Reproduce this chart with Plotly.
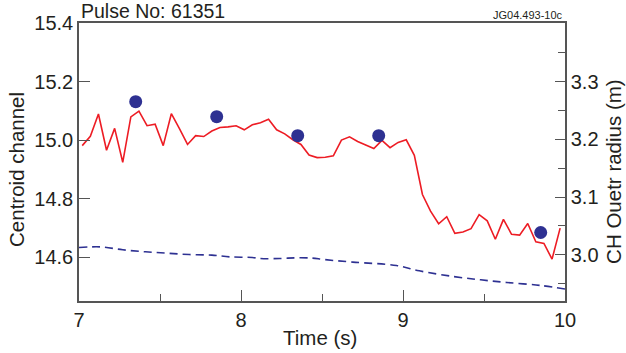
import plotly.graph_objects as go

# Red line: centroid channel vs time
t_red = [7.02, 7.07, 7.12, 7.17, 7.22, 7.27, 7.32, 7.37, 7.42, 7.47,
         7.52, 7.57, 7.62, 7.67, 7.72, 7.77, 7.82, 7.87, 7.92, 7.97,
         8.02, 8.07, 8.12, 8.17, 8.22, 8.27, 8.32, 8.37, 8.42, 8.47,
         8.52, 8.57, 8.62, 8.67, 8.72, 8.77, 8.82, 8.87, 8.92, 8.97,
         9.02, 9.07, 9.12, 9.17, 9.22, 9.27, 9.32, 9.37, 9.42, 9.47,
         9.52, 9.57, 9.62, 9.67, 9.72, 9.77, 9.82, 9.87, 9.92, 9.97]
centroid = [14.981, 15.013, 15.089, 14.965, 15.040, 14.924, 15.079, 15.099, 15.049, 15.054,
            14.981, 15.090, 15.039, 14.985, 15.015, 15.012, 15.031, 15.043, 15.045, 15.049,
            15.035, 15.052, 15.059, 15.071, 15.035, 15.021, 15.001, 14.985, 14.949, 14.940,
            14.941, 14.946, 15.000, 15.011, 14.995, 14.983, 14.971, 14.999, 14.974, 14.992,
            15.001, 14.948, 14.814, 14.757, 14.714, 14.738, 14.681, 14.686, 14.697, 14.745,
            14.724, 14.661, 14.729, 14.678, 14.675, 14.715, 14.652, 14.647, 14.593, 14.699]

# Blue dots
t_dots = [7.35, 7.85, 8.35, 8.85, 9.85]
dots = [15.131, 15.080, 15.015, 15.015, 14.684]

# Blue dashed line: CH outer radius (m), right axis
t_rad = [7.0, 7.13, 7.27, 7.41, 7.54, 7.68, 7.82, 7.93, 8.07, 8.12, 8.24,
         8.34, 8.44, 8.51, 8.69, 8.96, 9.10, 9.31, 9.48, 9.64, 9.85, 10.0]
radius = [3.0126, 3.0138, 3.0087, 3.0052, 3.0029, 3.0005, 2.9995, 2.9965, 2.9953, 2.9936, 2.9936,
          2.9948, 2.9943, 2.9919, 2.9874, 2.9815, 2.9723, 2.9625, 2.9567, 2.9521, 2.9469, 2.9407]

xticks = [7, 8, 9, 10]
yticks = [14.6, 14.8, 15.0, 15.2, 15.4]
y2ticks = [3.0, 3.1, 3.2, 3.3]

FONT = "Liberation Sans, Arial, sans-serif"
AX = "#555555"
TXT = "#231f20"
RED = "#ed1c24"
BLUE = "#2e3192"

fig = go.Figure()
fig.add_trace(go.Scatter(x=t_red, y=centroid, mode="lines",
                         line=dict(color=RED, width=1.6), yaxis="y"))
fig.add_trace(go.Scatter(x=t_rad, y=radius, mode="lines", line_shape="spline",
                         line=dict(color=BLUE, width=1.6, dash="8px,5px"), yaxis="y2"))
fig.add_trace(go.Scatter(x=t_dots, y=dots, mode="markers",
                         marker=dict(color=BLUE, size=13, line=dict(width=0)), yaxis="y"))

fig.update_layout(
    width=626, height=353,
    margin=dict(l=79, r=61, t=23, b=52),
    paper_bgcolor="white", plot_bgcolor="white",
    showlegend=False,
    font=dict(family=FONT, color=TXT, size=20),
    xaxis=dict(range=[7, 10], tickvals=xticks, ticktext=[str(v) for v in xticks],
               ticks="inside", ticklen=11, tickwidth=1.3, tickcolor=AX,
               showline=True, linecolor=AX, linewidth=1.5, mirror=True,
               showgrid=False, zeroline=False, automargin=False,
               minor=dict(tickvals=[7.5, 8.5, 9.5], ticks="inside", ticklen=7,
                          tickwidth=1.3, tickcolor=AX, showgrid=False),
               tickfont=dict(size=20)),
    yaxis=dict(range=[14.45, 15.4], tickvals=yticks,
               ticktext=["%.1f" % v for v in yticks],
               ticks="inside", ticklen=11, tickwidth=1.3, tickcolor=AX,
               showline=True, linecolor=AX, linewidth=1.5,
               showgrid=False, zeroline=False, automargin=False,
               tickfont=dict(size=20)),
    yaxis2=dict(range=[2.92, 3.4016], overlaying="y", side="right",
                tickvals=y2ticks, ticktext=["%.1f" % v for v in y2ticks],
                ticks="inside", ticklen=10, tickwidth=1.3, tickcolor=AX,
                showline=True, linecolor=AX, linewidth=1.5,
                showgrid=False, zeroline=False, automargin=False,
                minor=dict(tickvals=[2.95, 3.05, 3.15, 3.25, 3.35], ticks="inside",
                           ticklen=7, tickwidth=1.3, tickcolor=AX, showgrid=False),
                tickfont=dict(size=20)),
    annotations=[
        dict(text="Pulse No: 61351", xref="paper", yref="paper", x=0, y=1,
             xanchor="left", yanchor="bottom", showarrow=False, yshift=-1,
             font=dict(size=19.5, color=TXT, family=FONT)),
        dict(text="JG04.493-10c", xref="paper", yref="paper", x=1, y=1,
             xanchor="right", yanchor="bottom", showarrow=False, yshift=0,
             font=dict(size=11, color=TXT, family=FONT)),
        dict(text="Time (s)", xref="paper", yref="paper", x=0.496, y=-0.1295,
             xanchor="center", yanchor="middle", showarrow=False,
             font=dict(size=20.5, color=TXT, family=FONT)),
        dict(text="Centroid channel", xref="paper", yref="paper", x=-0.1276, y=0.475,
             xanchor="center", yanchor="middle", showarrow=False, textangle=-90,
             font=dict(size=20.5, color=TXT, family=FONT)),
        dict(text="CH Ouetr radius (m)", xref="paper", yref="paper", x=1.1008, y=0.468,
             xanchor="center", yanchor="middle", showarrow=False, textangle=-90,
             font=dict(size=20.5, color=TXT, family=FONT)),
    ],
)

fig.write_html("out.html")
